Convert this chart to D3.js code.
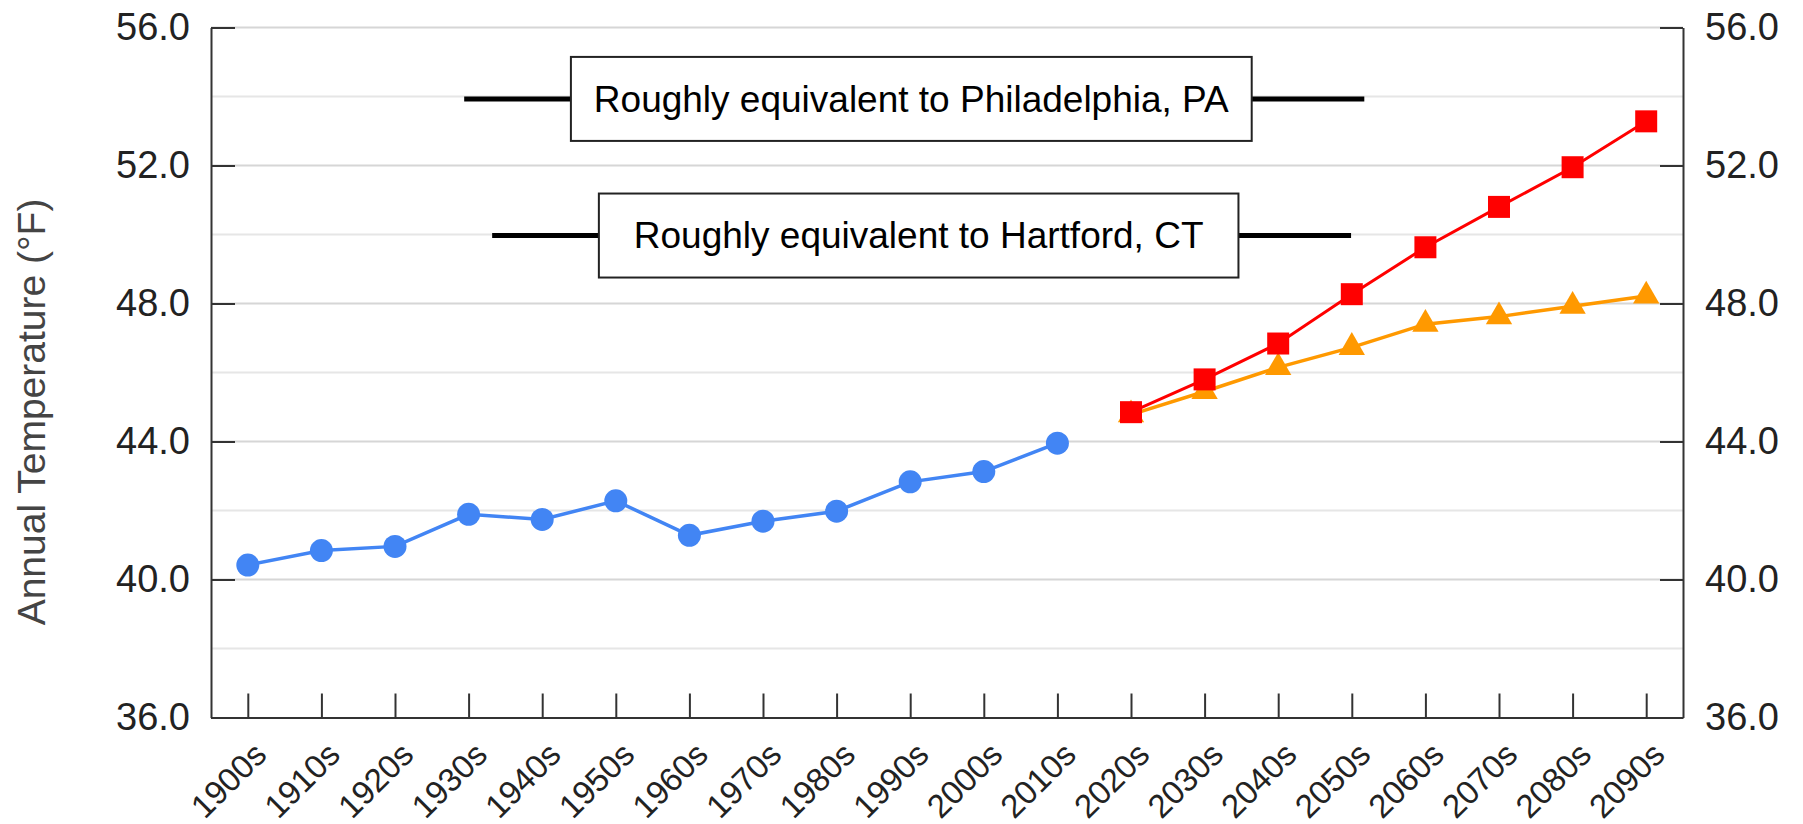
<!DOCTYPE html>
<html>
<head>
<meta charset="utf-8">
<style>
  body { margin: 0; background: #fff; }
  svg { display: block; font-family: "Liberation Sans", Arial, sans-serif; }
</style>
</head>
<body>
<div id="area"></div>

<script src="https://d3js.org/d3.v7.min.js"></script>
<script>
// ---- data ----
decades = ["1900s", "1910s", "1920s", "1930s", "1940s", "1950s", "1960s", "1970s", "1980s", "1990s",
           "2000s", "2010s", "2020s", "2030s", "2040s", "2050s", "2060s", "2070s", "2080s", "2090s"];

observedDecades = ["1900s", "1910s", "1920s", "1930s", "1940s", "1950s",
                   "1960s", "1970s", "1980s", "1990s", "2000s", "2010s"];
observedTemps = [40.42, 40.84, 40.96, 41.89, 41.74, 42.28, 41.28, 41.69, 41.98, 42.83, 43.13, 43.95];

projectedDecades = ["2020s", "2030s", "2040s", "2050s", "2060s", "2070s", "2080s", "2090s"];
higherTemps = [44.85, 45.80, 46.84, 48.27, 49.63, 50.80, 51.95, 53.28];   // red squares
lowerTemps  = [44.78, 45.45, 46.15, 46.73, 47.40, 47.62, 47.92, 48.22];   // orange triangles

yTickValues = [36, 40, 44, 48, 52, 56];
yGridValues = [38, 40, 42, 44, 46, 48, 50, 52, 54, 56];

cityLabels = ["Roughly equivalent to Philadelphia, PA", "Roughly equivalent to Hartford, CT"];
cityTemps = [53.93, 49.97];

yTitle = "Annual Temperature (\u00b0F)";

// ---- layout ----
width = 1803;
height = 824;
margin = ({top: 27.5, right: 120, bottom: 106.5, left: 211});

// where the annotation pieces sit, in decade-index units
cityLayout = [
  {lineFrom: 2.94, boxLeft: 4.39, boxRight: 13.64, lineTo: 15.17},
  {lineFrom: 3.32, boxLeft: 4.77, boxRight: 13.46, lineTo: 14.99}
];

x = d3.scalePoint()
    .domain(decades)
    .range([margin.left, width - margin.right])
    .padding(0.5);

xi = d3.scaleLinear()
    .domain([0, decades.length - 1])
    .range([x(decades[0]), x(decades[decades.length - 1])]);

y = d3.scaleLinear()
    .domain([36, 56])
    .range([height - margin.bottom, margin.top]);

svg = d3.select("#area")
  .append("svg")
    .attr("width", width)
    .attr("height", height)
    .attr("viewBox", [0, 0, width, height]);

svg.append("rect").attr("width", width).attr("height", height).attr("fill", "#fff");

// gridlines
svg.append("g")
  .selectAll("line")
  .data(yGridValues)
  .join("line")
    .attr("x1", margin.left)
    .attr("x2", width - margin.right)
    .attr("y1", d => y(d))
    .attr("y2", d => y(d))
    .attr("stroke", d => yTickValues.includes(d) ? "#d6d6d6" : "#e6e6e6")
    .attr("stroke-width", 2);

// annotations
city = svg.append("g")
  .selectAll("g")
  .data(cityLabels.map((label, i) => ({label, temp: cityTemps[i], pos: cityLayout[i]})))
  .join("g");

city.append("line")
    .attr("x1", d => xi(d.pos.lineFrom))
    .attr("x2", d => xi(d.pos.lineTo))
    .attr("y1", d => y(d.temp))
    .attr("y2", d => y(d.temp))
    .attr("stroke", "#000")
    .attr("stroke-width", 5);

city.append("rect")
    .attr("x", d => xi(d.pos.boxLeft))
    .attr("y", d => y(d.temp) - 42)
    .attr("width", d => xi(d.pos.boxRight) - xi(d.pos.boxLeft))
    .attr("height", 84)
    .attr("fill", "#fff")
    .attr("stroke", "#222")
    .attr("stroke-width", 2);

city.append("text")
    .attr("x", d => (xi(d.pos.boxLeft) + xi(d.pos.boxRight)) / 2)
    .attr("y", d => y(d.temp))
    .attr("dy", "0.35em")
    .attr("text-anchor", "middle")
    .attr("font-size", 37)
    .attr("fill", "#000")
    .text(d => d.label);

// axes
xAxis = g => g
    .attr("transform", `translate(0,${height - margin.bottom})`)
    .call(d3.axisBottom(x).tickSize(-24).tickSizeOuter(0))
    .call(g => g.selectAll("line, path").attr("stroke", "#333").attr("stroke-width", 2))
    .call(g => g.selectAll("text")
        .attr("x", 0)
        .attr("y", 0)
        .attr("dy", 0)
        .attr("text-anchor", "end")
        .attr("transform", "translate(20,39) rotate(-45)")
        .attr("font-size", 33)
        .attr("font-family", null)
        .attr("fill", "#222"));

yAxisLeft = g => g
    .attr("transform", `translate(${margin.left},0)`)
    .call(d3.axisLeft(y).tickValues(yTickValues).tickFormat(d3.format(".1f"))
        .tickSize(-24).tickSizeOuter(0).tickPadding(21))
    .call(g => g.selectAll("line, path").attr("stroke", "#333").attr("stroke-width", 2))
    .call(g => g.selectAll("text").attr("font-size", 38).attr("font-family", null).attr("fill", "#222"));

yAxisRight = g => g
    .attr("transform", `translate(${width - margin.right},0)`)
    .call(d3.axisRight(y).tickValues(yTickValues).tickFormat(d3.format(".1f"))
        .tickSize(-23).tickSizeOuter(0).tickPadding(22))
    .call(g => g.selectAll("line, path").attr("stroke", "#333").attr("stroke-width", 2))
    .call(g => g.selectAll("text").attr("font-size", 38).attr("font-family", null).attr("fill", "#222"));

svg.append("g").call(yAxisLeft);
svg.append("g").call(yAxisRight);
svg.append("g").call(xAxis);

svg.append("text")
    .attr("transform", `translate(45,412) rotate(-90)`)
    .attr("text-anchor", "middle")
    .attr("font-size", 39)
    .attr("fill", "#444")
    .text(yTitle);

// series
line = d3.line()
    .x(d => x(d.decade))
    .y(d => y(d.value));

observed = observedDecades.map((decade, i) => ({decade, value: observedTemps[i]}));
lower = projectedDecades.map((decade, i) => ({decade, value: lowerTemps[i]}));
higher = projectedDecades.map((decade, i) => ({decade, value: higherTemps[i]}));

svg.append("path")
    .datum(observed)
    .attr("fill", "none")
    .attr("stroke", "#4285f4")
    .attr("stroke-width", 3.5)
    .attr("d", line);

svg.append("g")
  .selectAll("circle")
  .data(observed)
  .join("circle")
    .attr("cx", d => x(d.decade))
    .attr("cy", d => y(d.value))
    .attr("r", 11.5)
    .attr("fill", "#4285f4");

svg.append("path")
    .datum(lower)
    .attr("fill", "none")
    .attr("stroke", "#ff9900")
    .attr("stroke-width", 3.5)
    .attr("d", line);

svg.append("g")
  .selectAll("path")
  .data(lower)
  .join("path")
    .attr("transform", d => `translate(${x(d.decade)},${y(d.value)})`)
    .attr("d", d3.symbol(d3.symbolTriangle, 300))
    .attr("fill", "#ff9900");

svg.append("path")
    .datum(higher)
    .attr("fill", "none")
    .attr("stroke", "#ff0000")
    .attr("stroke-width", 3)
    .attr("d", line);

svg.append("g")
  .selectAll("path")
  .data(higher)
  .join("path")
    .attr("transform", d => `translate(${x(d.decade)},${y(d.value)})`)
    .attr("d", d3.symbol(d3.symbolSquare, 484))
    .attr("fill", "#ff0000");
</script>
</body>
</html>
